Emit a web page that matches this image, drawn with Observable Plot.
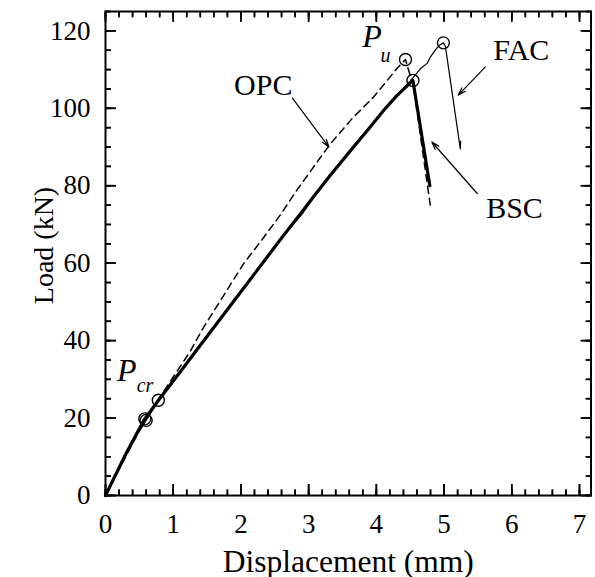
<!DOCTYPE html>
<html><head><meta charset="utf-8">
<script src="https://cdn.jsdelivr.net/npm/d3@7"></script>
<script src="https://cdn.jsdelivr.net/npm/@observablehq/plot@0.6"></script>
<style>body{margin:0;background:#fff} svg{display:block}</style>
</head><body><div id="chart"></div>
<script>
// ---- data ----
const xTickLabels = [0, 1, 2, 3, 4, 5, 6, 7];
const yTickLabels = [0, 20, 40, 60, 80, 100, 120];

const opcX = [0, 0.15, 0.3, 0.45, 0.6, 0.78, 1.0, 1.25, 1.45, 1.7, 2.04, 2.3, 2.58, 2.8, 3.05, 3.32, 3.65, 3.96, 4.3, 4.43, 4.55, 4.8];
const opcY = [0, 5, 10.1, 15.1, 19.8, 24.8, 30.6, 37.2, 43.5, 50.4, 59.9, 65.8, 72.4, 78.2, 84.3, 90.8, 97.5, 102.9, 110.2, 112.6, 105.5, 74.5];

const bscX = [0, 0.15, 0.3, 0.45, 0.58, 0.8, 1.08, 1.4, 1.7, 2.0, 2.34, 2.6, 2.88, 3.1, 3.32, 3.62, 3.9, 4.11, 4.3, 4.54, 4.56, 4.79];
const bscY = [0, 5.4, 10.7, 15.6, 19.8, 25.0, 31.4, 38.8, 45.7, 52.6, 60.5, 66.5, 72.8, 77.8, 82.7, 89.1, 95, 99.5, 103.2, 107.2, 105, 80];

const facX = [0, 0.15, 0.3, 0.45, 0.6, 0.78, 1.05, 1.38, 1.7, 2.02, 2.34, 2.62, 2.9, 3.12, 3.34, 3.62, 3.9, 4.12, 4.3, 4.5, 4.65, 4.75, 4.8, 4.87, 4.93, 4.99, 5.02, 5.24, 5.245];
const facY = [0, 5.2, 10.4, 15.3, 19.4, 24.4, 30.9, 38.5, 45.9, 53.0, 60.3, 66.9, 72.6, 78.1, 82.9, 89.4, 95.2, 99.8, 103.4, 107, 110.2, 111.6, 113.3, 115, 116.3, 116.9, 116, 89.5, 91.5];

const crX = [0.58, 0.6, 0.78];
const crY = [19.8, 19.4, 24.6];
const puX = [4.43, 4.54, 4.99];
const puY = [112.6, 107.2, 116.9];

const seriesNames = ["OPC", "FAC", "BSC"];
const seriesLabelX = [2.33, 6.14, 6.04];
const seriesLabelY = [103.4, 112.4, 71.6];
const arrowFromX = [2.76, 5.61, 5.49];
const arrowFromY = [102.6, 110.7, 78.0];
const arrowToX = [3.30, 5.21, 4.82];
const arrowToY = [90.0, 103.4, 91.3];

const pLabels = ["P", "P"];
const pLabelX = [3.79, 0.17];
const pLabelY = [115.8, 29.7];
const subLabels = ["u", "cr"];
const subLabelX = [4.06, 0.46];
const subLabelY = [112.0, 26.7];

// ---- build tables ----
const toPts = (xs, ys) => xs.map((x, i) => ({x, y: ys[i]}));
const opc = toPts(opcX, opcY);
const bsc = toPts(bscX, bscY);
const fac = toPts(facX, facY);
const circles = toPts(crX.concat(puX), crY.concat(puY));
const names = seriesNames.map((n, i) => ({n, x: seriesLabelX[i], y: seriesLabelY[i]}));
const arrows = seriesNames.map((n, i) => ({x1: arrowFromX[i], y1: arrowFromY[i], x2: arrowToX[i], y2: arrowToY[i]}));
const ps = pLabels.map((t, i) => ({t, x: pLabelX[i], y: pLabelY[i]}));
const subs = subLabels.map((t, i) => ({t, x: subLabelX[i], y: subLabelY[i]}));

const xMax = 7.17, yMax = 125;
const xMinor = d3.range(0, 7.1, 0.2);
const yMinor = d3.range(0, 126, 5);

const W = 595, H = 577, mL = 105, mR = 4.5, mT = 11, mB = 82;
const pw = W - mL - mR, ph = H - mT - mB;
const xLen = px => px * xMax / pw;
const yLen = px => px * yMax / ph;

const font = "'Liberation Serif', 'Times New Roman', serif";
const tick = {stroke: "black", strokeWidth: 1.6};
const noText = () => "";
// inward tick marks drawn with Plot's own axes, shifted into the frame
const axTicks = () => [
  Plot.axisX(xMinor, {anchor: "bottom", tickSize: 5.5, dy: -5.5, tickFormat: noText, label: null, ...tick}),
  Plot.axisX(xTickLabels, {anchor: "bottom", tickSize: 11, dy: -11, tickFormat: noText, label: null, ...tick}),
  Plot.axisX(xMinor, {anchor: "top", tickSize: 5.5, dy: 5.5, tickFormat: noText, label: null, ...tick}),
  Plot.axisX(xTickLabels, {anchor: "top", tickSize: 10, dy: 10, tickFormat: noText, label: null, ...tick}),
  Plot.axisY(yMinor, {anchor: "left", tickSize: 6, dx: 6, tickFormat: noText, label: null, ...tick}),
  Plot.axisY(yTickLabels, {anchor: "left", tickSize: 11, dx: 11, tickFormat: noText, label: null, ...tick}),
  Plot.axisY(yMinor, {anchor: "right", tickSize: 5, dx: -5, tickFormat: noText, label: null, ...tick}),
  Plot.axisY(yTickLabels, {anchor: "right", tickSize: 10, dx: -10, tickFormat: noText, label: null, ...tick})
];
// the same ticks as rules in scale units (coincide with the axis ticks)
const ruleTicks = () => [
  Plot.ruleX(xMinor, {x: d => d, y1: 0, y2: yLen(5.5), ...tick}),
  Plot.ruleX(xTickLabels, {x: d => d, y1: 0, y2: yLen(11), ...tick}),
  Plot.ruleX(xMinor, {x: d => d, y1: yMax - yLen(5.5), y2: yMax, ...tick}),
  Plot.ruleX(xTickLabels, {x: d => d, y1: yMax - yLen(10), y2: yMax, ...tick}),
  Plot.ruleY(yMinor, {y: d => d, x1: 0, x2: xLen(6), ...tick}),
  Plot.ruleY(yTickLabels, {y: d => d, x1: 0, x2: xLen(11), ...tick}),
  Plot.ruleY(yMinor, {y: d => d, x1: xMax - xLen(5), x2: xMax, ...tick}),
  Plot.ruleY(yTickLabels, {y: d => d, x1: xMax - xLen(10), x2: xMax, ...tick})
];

const chart = Plot.plot({
  width: W, height: H,
  marginLeft: mL, marginRight: mR, marginTop: mT, marginBottom: mB,
  style: {fontFamily: font, fontSize: "27px", background: "white", color: "black"},
  x: {domain: [0, xMax]},
  y: {domain: [0, yMax]},
  marks: [
    Plot.axisX({ticks: xTickLabels, tickSize: 0, tickPadding: 18, tickFormat: d => String(d), fontSize: 27, label: null}),
    Plot.axisY({ticks: yTickLabels, tickSize: 0, tickPadding: 15, tickFormat: d => String(d), fontSize: 27, label: null}),
    ...axTicks(),
    ...ruleTicks(),
    Plot.frame({stroke: "black", strokeWidth: 2}),
    Plot.line(opc, {x: "x", y: "y", stroke: "black", strokeWidth: 1.5, strokeDasharray: "7,5"}),
    Plot.line(bsc, {x: "x", y: "y", stroke: "black", strokeWidth: 3.2}),
    Plot.line(fac, {x: "x", y: "y", stroke: "black", strokeWidth: 1.2}),
    Plot.dot(circles, {x: "x", y: "y", r: 6, stroke: "black", fill: "none", strokeWidth: 1.4}),
    Plot.arrow(arrows, {x1: "x1", y1: "y1", x2: "x2", y2: "y2", stroke: "black", strokeWidth: 1.2, headLength: 10, headAngle: 35}),
    Plot.text(names, {x: "x", y: "y", text: "n", textAnchor: "middle", lineAnchor: "bottom", fontSize: 30, fill: "black"}),
    Plot.text(ps, {x: "x", y: "y", text: "t", textAnchor: "start", lineAnchor: "bottom", fontSize: 32, fontStyle: "italic", fill: "black"}),
    Plot.text(subs, {x: "x", y: "y", text: "t", textAnchor: "start", lineAnchor: "bottom", fontSize: 20, fontStyle: "italic", fill: "black"}),
    Plot.text(["Displacement (mm)"], {text: d => d, frameAnchor: "bottom", dy: 76, textAnchor: "middle", lineAnchor: "bottom", fontSize: 31.5, fill: "black"}),
    Plot.text(["Load (kN)"], {text: d => d, frameAnchor: "left", dx: -53, dy: -8, rotate: -90, textAnchor: "middle", lineAnchor: "bottom", fontSize: 28, fill: "black"})
  ]
});
document.getElementById("chart").append(chart);
</script>
</body></html>
